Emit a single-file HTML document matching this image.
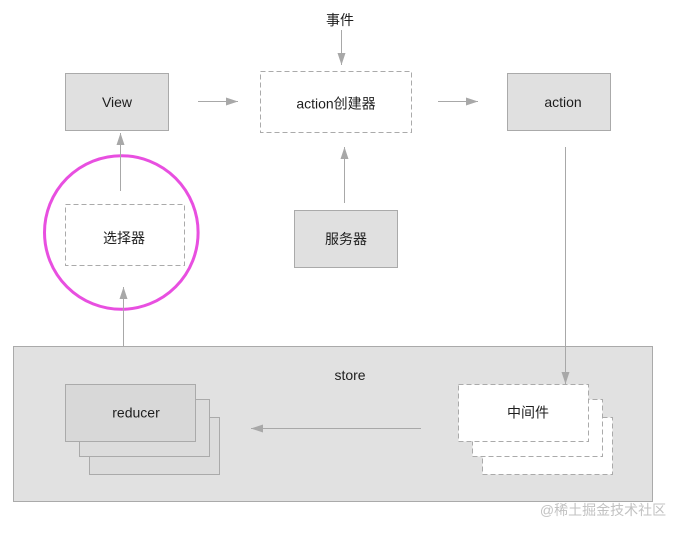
<!DOCTYPE html>
<html>
<head>
<meta charset="utf-8">
<style>
html,body{margin:0;padding:0;background:#fff;}
svg{display:block;}
text{font-family:"Liberation Sans","Noto Sans CJK SC",sans-serif;font-size:14px;fill:#1e1e1e;text-anchor:middle;dominant-baseline:central;}
</style>
</head>
<body>
<svg width="683" height="533" viewBox="0 0 683 533" xmlns="http://www.w3.org/2000/svg">
  <defs>
    <marker id="ah" markerWidth="12" markerHeight="8" refX="12" refY="4" orient="auto" markerUnits="userSpaceOnUse">
      <path d="M0,0 L12,4 L0,8 Z" fill="#a8a8a8"/>
    </marker>
  </defs>

  <!-- store -->
  <rect x="13.5" y="346.5" width="639" height="155" fill="#e1e1e1" stroke="#aaaaaa" stroke-width="1"/>
  <text x="350" y="375">store</text>

  <!-- reducer stack -->
  <rect x="89.5" y="417.5" width="130" height="57" fill="#dcdcdc" stroke="#aaaaaa"/>
  <rect x="79.5" y="399.5" width="130" height="57" fill="#dcdcdc" stroke="#aaaaaa"/>
  <rect x="65.5" y="384.5" width="130" height="57" fill="#d8d8d8" stroke="#aaaaaa"/>
  <text x="136" y="412.5">reducer</text>

  <!-- middleware stack -->
  <rect x="482.5" y="417.5" width="130" height="57" fill="#ffffff" stroke="#aaaaaa" stroke-dasharray="5,3"/>
  <rect x="472.5" y="399.5" width="130" height="57" fill="#ffffff" stroke="#aaaaaa" stroke-dasharray="5,3"/>
  <rect x="458.5" y="384.5" width="130" height="57" fill="#ffffff" stroke="#aaaaaa" stroke-dasharray="5,3"/>
  <text x="528" y="412.5">中间件</text>

  <!-- middleware -> reducer -->
  <line x1="421" y1="428.5" x2="251" y2="428.5" stroke="#a8a8a8" stroke-width="1" marker-end="url(#ah)"/>

  <!-- View -->
  <rect x="65.5" y="73.5" width="103" height="57" fill="#e0e0e0" stroke="#aaaaaa"/>
  <text x="117" y="102">View</text>

  <!-- action creator -->
  <rect x="260.5" y="71.5" width="151" height="61" fill="#ffffff" stroke="#aaaaaa" stroke-dasharray="5,3"/>
  <text x="336" y="103.5">action创建器</text>

  <!-- action -->
  <rect x="507.5" y="73.5" width="103" height="57" fill="#e0e0e0" stroke="#aaaaaa"/>
  <text x="563" y="102">action</text>

  <!-- service -->
  <rect x="294.5" y="210.5" width="103" height="57" fill="#e0e0e0" stroke="#aaaaaa"/>
  <text x="346" y="239">服务器</text>

  <!-- selector -->
  <rect x="65.5" y="204.5" width="119" height="61" fill="#ffffff" stroke="#aaaaaa" stroke-dasharray="5,3"/>
  <text x="124" y="238">选择器</text>

  <!-- magenta circle -->
  <circle cx="121.3" cy="232.5" r="76.8" fill="none" stroke="#e84fe0" stroke-width="3"/>

  <!-- 事件 -->
  <text x="340" y="20">事件</text>

  <!-- arrows -->
  <line x1="341.5" y1="30" x2="341.5" y2="65" stroke="#a8a8a8" marker-end="url(#ah)"/>
  <line x1="198" y1="101.5" x2="238" y2="101.5" stroke="#a8a8a8" marker-end="url(#ah)"/>
  <line x1="438" y1="101.5" x2="478" y2="101.5" stroke="#a8a8a8" marker-end="url(#ah)"/>
  <line x1="344.5" y1="203" x2="344.5" y2="147" stroke="#a8a8a8" marker-end="url(#ah)"/>
  <line x1="120.5" y1="191" x2="120.5" y2="133" stroke="#a8a8a8" marker-end="url(#ah)"/>
  <line x1="123.5" y1="346" x2="123.5" y2="287" stroke="#a8a8a8" marker-end="url(#ah)"/>
  <line x1="565.5" y1="147" x2="565.5" y2="384" stroke="#a8a8a8" marker-end="url(#ah)"/>

  <!-- watermark -->
  <text x="603" y="510" style="fill:#c2c2c2;font-size:14px;">@稀土掘金技术社区</text>
</svg>
</body>
</html>
